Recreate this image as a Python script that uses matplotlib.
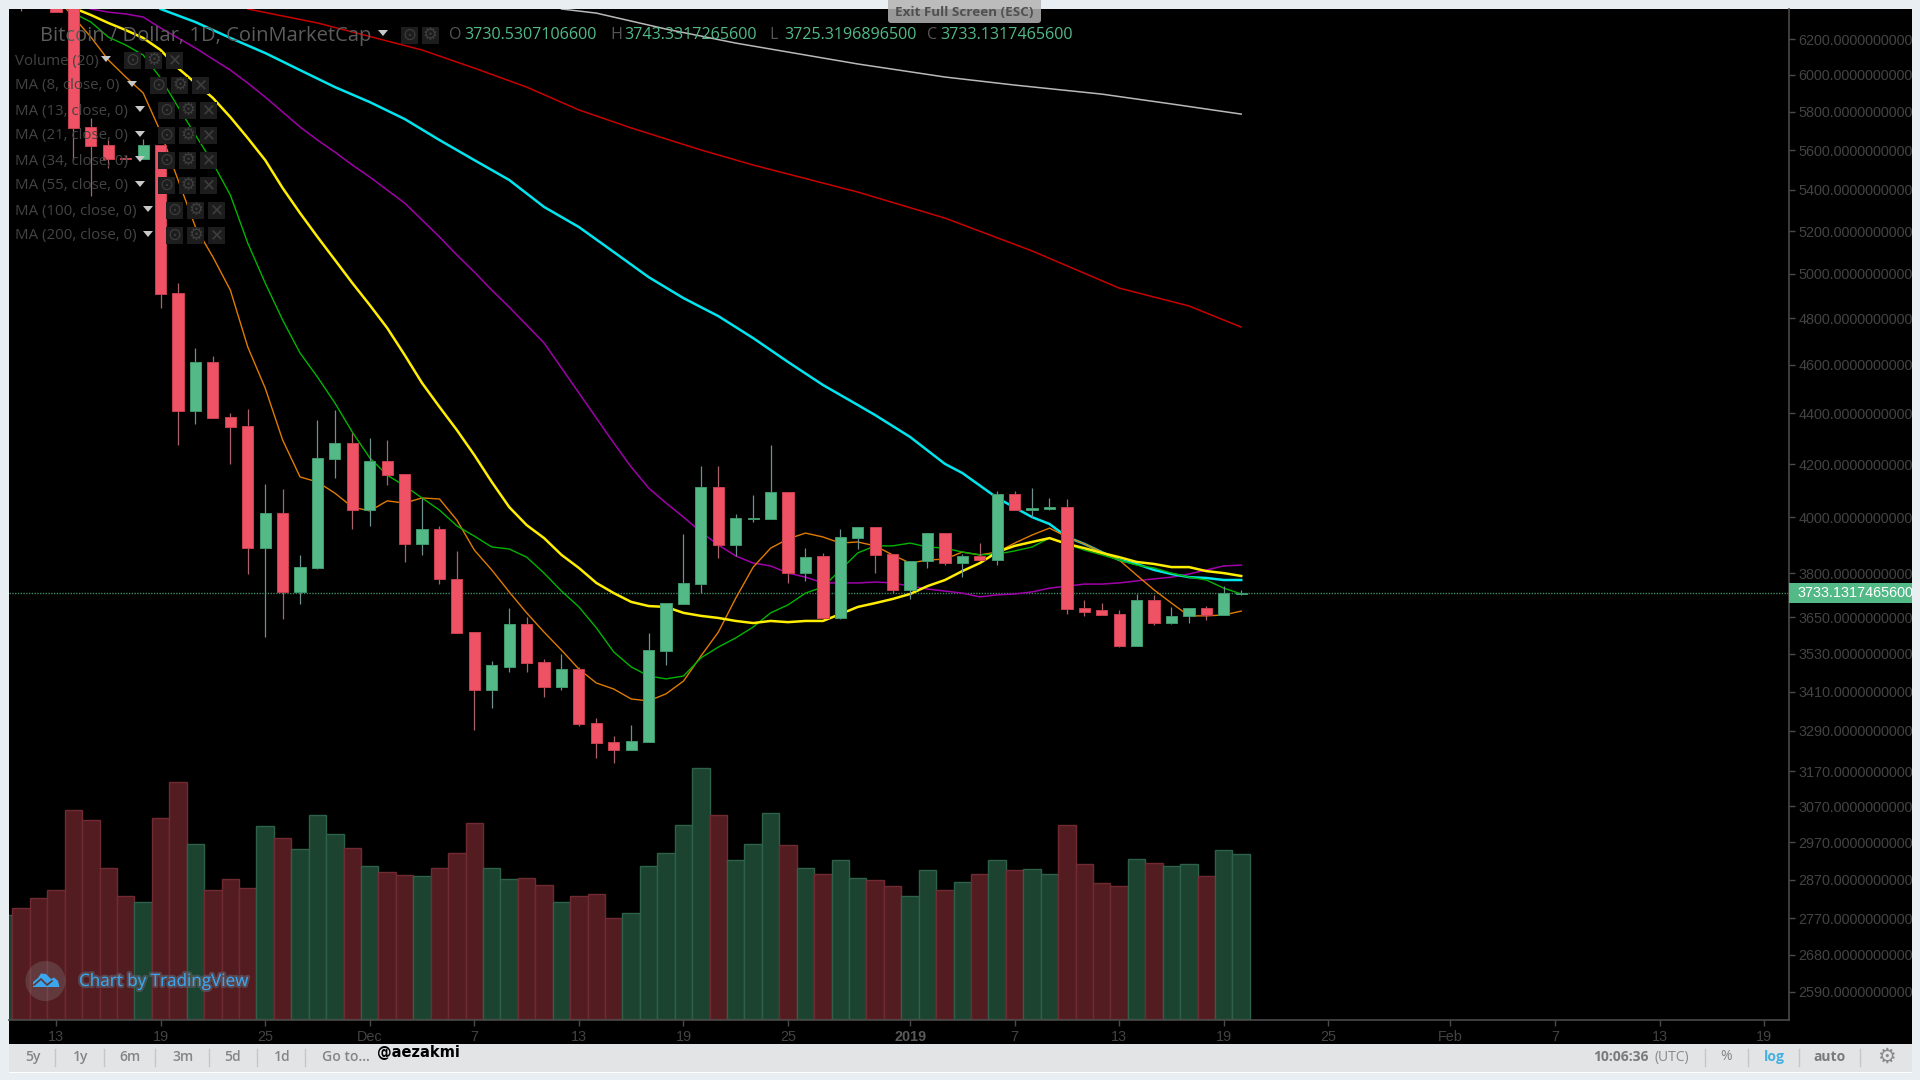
import numpy as np
import matplotlib
matplotlib.use("Agg")
import matplotlib.pyplot as plt
from matplotlib.patches import Rectangle, Circle, Polygon, FancyBboxPatch
import matplotlib.patheffects as pe

# daily candles, day index counted from 13 Nov 2018
days = list(range(-2, 69))
opens = [6440,6520,6420,6400,5721,5625,5562,5556,5625,4914,4408,4613,4386,4351,3890,4016,3736,3819,4220,4283,4027,4211,4161,3903,3956,3782,3602,3415,3489,3627,3505,3424,3481,3313,3255,3232,3257,3540,3696,3764,4114,3900,3994,3995,4095,3801,3860,3649,3926,3965,3867,3742,3844,3945,3837,3860,3848,4087,4027,4031,4039,3681,3673,3661,3554,3710,3631,3654,3681,3657,3730.53]
highs = [6460,6540,6440,6450,5769,5652,5575,5655,5625,4958,4673,4637,4402,4417,4124,4105,3864,4372,4413,4322,4303,4294,4161,4070,3970,3878,3602,3507,3682,3651,3512,3529,3489,3330,3273,3306,3599,3699,3939,4192,4192,4012,4083,4274,4095,3890,3873,3957,3965,3965,3867,3844,3945,3945,3868,3908,4098,4098,4111,4073,4067,3710,3699,3676,3728,3724,3685,3681,3688,3758,3743.33]
lows = [6362,6440,6355,5550,5371,5508,5540,5556,4848,4274,4359,4383,4200,3798,3586,3643,3694,3815,4146,3957,3970,4120,3840,3863,3762,3599,3291,3360,3473,3473,3394,3414,3303,3209,3194,3232,3257,3494,3696,3734,3855,3861,3983,3995,3766,3775,3649,3643,3885,3800,3731,3712,3819,3829,3788,3846,3829,4027,4002,4026,3661,3656,3657,3551,3554,3624,3627,3631,3640,3657,3725.32]
closes = [6400,6440,6355,5716,5621,5556,5556,5625,4908,4408,4613,4383,4346,3890,4016,3736,3823,4224,4283,4027,4211,4157,3903,3956,3779,3599,3415,3493,3627,3502,3424,3481,3311,3252,3232,3258,3542,3699,3765,4114,3900,3997,3997,4095,3801,3858,3649,3929,3965,3864,3742,3844,3945,3837,3860,3846,4087,4027,4034,4039,3678,3669,3657,3554,3710,3631,3656,3681,3657,3733,3733.13]

vol_days = list(range(-3, 69))
volumes = [312,333,363,387,626,596,453,368,352,603,712,525,387,420,393,578,543,510,611,555,513,458,442,431,428,453,498,588,453,420,423,401,352,368,375,303,318,458,498,581,753,611,476,525,618,521,453,435,476,423,416,398,368,447,387,412,435,476,447,450,435,581,465,408,398,480,468,458,465,428,506,495]

ma_days = list(range(0, 69))
ma8 = [6443,6326,6211,6082,5988,5901,5694,5449,5219,5078,4926,4676,4503,4294,4151,4132,4090,4038,4024,4061,4053,4072,4068,3990,3882,3812,3736,3665,3601,3542,3481,3437,3418,3387,3381,3403,3443,3523,3601,3715,3822,3889,3922,3943,3929,3907,3911,3897,3865,3836,3847,3850,3875,3865,3875,3907,3936,3961,3929,3904,3875,3847,3794,3743,3698,3655,3655,3658,3671]
ma13 = [6443,6349,6297,6211,6166,6110,5982,5826,5678,5534,5374,5143,4958,4793,4650,4549,4442,4325,4224,4158,4117,4072,4027,3969,3932,3893,3886,3857,3801,3739,3685,3615,3536,3488,3459,3450,3459,3517,3552,3582,3618,3665,3692,3732,3753,3812,3872,3897,3897,3907,3893,3889,3875,3865,3868,3879,3893,3925,3904,3882,3865,3847,3829,3819,3801,3787,3777,3749,3729]
ma21 = [6461,6379,6338,6292,6251,6206,6138,6037,5955,5874,5772,5662,5549,5409,5286,5172,5064,4958,4859,4758,4642,4524,4426,4333,4235,4132,4038,3972,3925,3865,3819,3767,3732,3702,3688,3685,3665,3655,3648,3638,3631,3638,3634,3638,3638,3661,3685,3698,3712,3729,3756,3777,3808,3836,3875,3897,3911,3925,3904,3889,3872,3857,3840,3833,3822,3822,3808,3801,3791]
ma34 = [6473,6414,6373,6355,6344,6326,6263,6206,6149,6087,6026,5955,5879,5799,5720,5652,5590,5524,5464,5399,5335,5253,5172,5087,5008,4926,4850,4771,4693,4587,4483,4381,4282,4189,4109,4053,4001,3947,3900,3861,3836,3826,3801,3787,3767,3767,3767,3770,3767,3756,3746,3739,3732,3719,3726,3729,3736,3749,3756,3763,3763,3767,3774,3781,3787,3798,3812,3826,3829]
ma55_days = [6,8,10,12,14,16,18,20,22,24,26,28,30,32,34,36,38,40,42,44,46,47,49,51,52,54,56,57,58,59,60,61,62,63,64,65,66,67,68]
ma55 = [6373,6297,6206,6121,6026,5933,5852,5762,5652,5549,5449,5316,5219,5101,4985,4890,4810,4714,4612,4516,4434,4393,4306,4201,4166,4072,4001,3976,3929,3904,3875,3847,3833,3812,3798,3787,3784,3777,3777]
ma100_days = [11,15,21,24,27,30,33,37,40,46,51,56,61,65,68]
ma100 = [6373,6292,6138,6037,5933,5810,5715,5601,5524,5389,5262,5106,4935,4855,4762]
ma200_days = [29,31,35,39,46,51,55,60,64,68]
ma200 = [6373,6349,6257,6177,6060,5988,5944,5895,5842,5788]

last_price = 3733.13
price_ticks = [6200,6000,5800,5600,5400,5200,5000,4800,4600,4400,4200,4000,3800,3650,3530,3410,3290,3170,3070,2970,2870,2770,2680,2590]
date_ticks = [0,6,12,18,24,30,36,42,49,55,61,67,73,80,86,92,98]
date_labels = ["13","19","25","Dec","7","13","19","25","2019","7","13","19","25","Feb","7","13","19"]
legend_rows = ["Volume (20)","MA (8, close, 0)","MA (13, close, 0)","MA (21, close, 0)","MA (34, close, 0)","MA (55, close, 0)","MA (100, close, 0)","MA (200, close, 0)"]

W, H = 1920, 1080
UP, DOWN = "#53b987", "#ef5264"
GREY = "#4a4a4a"
fig = plt.figure(figsize=(W/100, H/100), dpi=100, facecolor="#e9eef2")

def rect_px(l, t, r, b):
    return [l/W, 1-b/H, (r-l)/W, (b-t)/H]

ax_bg = fig.add_axes([0, 0, 1, 1], zorder=0)
ax_bg.set_xlim(0, W); ax_bg.set_ylim(H, 0); ax_bg.axis("off")
ax_bg.add_patch(Rectangle((9, 9), 1903, 1035, fc="black", ec="none"))

xlim = (-2.7, 99.43)
ax_vol = fig.add_axes(rect_px(9, 9, 1789, 1020), zorder=1)
ax_vol.set_xlim(*xlim); ax_vol.axis("off")
up_flags = [True] + [c >= o for o, c in zip(opens, closes)]
ax_vol.bar(vol_days, volumes, width=1.0,
           color=["#1c4230" if u else "#531c21" for u in up_flags],
           edgecolor=["#2d6149" if u else "#702a31" for u in up_flags], linewidth=1)
ax_vol.set_ylim(-3, 3030)

ax = fig.add_axes(rect_px(9, 9, 1789, 1020), zorder=2)
ax.patch.set_alpha(0)
ax.set_yscale("log")
ax.set_xlim(*xlim); ax.set_ylim(2524, 6373)
for s in ("top", "left"):
    ax.spines[s].set_visible(False)
for s in ("bottom", "right"):
    ax.spines[s].set_color(GREY); ax.spines[s].set_linewidth(1.2)
ax.minorticks_off()
ax.yaxis.tick_right()
ax.set_yticks(price_ticks, [f"{p}.0000000000" for p in price_ticks])
ax.yaxis.set_minor_locator(matplotlib.ticker.NullLocator())
ax.set_xticks(date_ticks, date_labels)
ax.tick_params(axis="y", length=4, width=1, color=GREY, labelcolor="#434343", labelsize=10.4, pad=3)
ax.tick_params(axis="x", length=4, width=1, color=GREY, labelcolor="#434343", labelsize=10.4, pad=3)
for t in ax.get_yticklabels() + ax.get_xticklabels():
    t.set_family("Liberation Sans")
ax.get_xticklabels()[8].set_fontweight("bold")
ax.get_xticklabels()[8].set_color("#5a5a5a")

ax.axhline(last_price, color="#53b987", lw=1, ls=(0, (1, 1)), alpha=0.75, zorder=1)
ax.plot(ma200_days, ma200, color="#b9b9b9", lw=1.1, zorder=2)
ax.plot(ma100_days, ma100, color="#c80000", lw=1.1, zorder=2)
ax.plot(ma_days, ma34, color="#a000aa", lw=1.1, zorder=2)
ax.plot(ma55_days, ma55, color="#00e5ee", lw=1.8, zorder=2)
ax.plot(ma_days, ma8, color="#e07b00", lw=1.0, zorder=2)
ax.plot(ma_days, ma13, color="#00b400", lw=1.0, zorder=2)
ax.plot(ma_days, ma21, color="#ffee00", lw=1.8, zorder=2)

for d, o, h, l, c in zip(days, opens, highs, lows, closes):
    up = c >= o
    ax.vlines(d, l, h, color="#6e8f8d" if up else "#a8636b", lw=0.9, zorder=3)
    lo, hi = min(o, c), max(o, c)
    ax.bar(d, max(hi-lo, 3), bottom=lo, width=0.64, color=UP if up else DOWN,
           edgecolor="#3f9a6e" if up else "#c9404f", linewidth=0.7, zorder=4)

ui = fig.add_axes([0, 0, 1, 1], zorder=5)
ui.set_xlim(0, W); ui.set_ylim(H, 0); ui.axis("off")
ui.patch.set_alpha(0)

# current price tag
ui.add_patch(Rectangle((1789, 582.5), 123, 20, fc=UP, ec="none"))
ui.text(1797, 593, "3733.1317465600", color="white", fontsize=10.4, family="Liberation Sans", va="center")

# frame strip hiding the clipped price labels, then bottom bar
ui.add_patch(Rectangle((1912, 0), 8, H, fc="#e9eef2", ec="none", zorder=3))
ui.add_patch(Rectangle((9, 1044), 1903, 28, fc="#e3e4e6", ec="none"))
ui.add_patch(Rectangle((9, 1072), 1903, 1, fc="white", ec="none"))

# legend
ui.text(40, 36, "Bitcoin / Dollar, 1D, CoinMarketCap", color="#5c5c5c", fontsize=14.5, family="Open Sans", va="center")
def tri(x, y, s=5):
    ui.add_patch(Polygon([(x-s, y-3), (x+s, y-3), (x, y+3)], fc="#c8c8c8", ec="none"))
def icon(x, y, glyphs):
    for dx, g in zip((0, 21, 42), glyphs):
        ui.add_patch(Rectangle((x+dx-8.5, y-8.5), 17, 17, fc="#1d1d1d", ec="none"))
        ui.text(x+dx, y, g, color="#3e3e3e", fontsize=12, family="DejaVu Sans", ha="center", va="center")
tri(383, 33)
icon(409, 35, "⊙⚙")
tri_x = [106, 132, 140, 140, 140, 140, 148, 148]
icon_x = [132.5, 158.5, 166.5, 166.5, 166.5, 166.5, 174.5, 174.5]
for k, row in enumerate(legend_rows):
    y = 60 + 25*k
    ui.text(15, y+1, row, color="#444444", fontsize=10.8, family="Open Sans", va="center")
    tri(tri_x[k], y-1)
    icon(icon_x[k], y, "⊙⚙✕")

# OHLC read-out
for lx, lab, vx, val in [(449, "O", 464, "3730.5307106600"), (610, "H", 624, "3743.3317265600"),
                         (769, "L", 784, "3725.3196896500"), (927, "C", 940, "3733.1317465600")]:
    ui.text(lx, 35, lab, color="#555555", fontsize=11.6, family="Open Sans", va="center")
    ui.text(vx, 35, val, color=UP, fontsize=11.6, family="Open Sans", va="center")

# fullscreen banner
ui.add_patch(FancyBboxPatch((888, -6), 153, 29, boxstyle="round,pad=0,rounding_size=3", fc="#b4b4b4", ec="none", alpha=0.85))
ui.text(964.5, 13, "Exit Full Screen (ESC)", color="#505050", fontsize=9.7, fontweight="bold", family="Open Sans", ha="center", va="center")

# watermark
ui.add_patch(Circle((45.5, 981), 20, fc="#8a8a8a", ec="none", alpha=0.28))
ui.add_patch(Polygon([(33, 987), (33, 982), (38, 978), (41, 973.5), (46, 974), (51, 979), (54, 977.5), (58, 981), (59.5, 987)], fc="#3ba6ee", ec="none"))
ui.plot([34, 41, 47, 52], [985, 979, 985, 981], color="#5b3638", lw=1.2)
ui.text(79, 982, "Chart by TradingView", color="#3ba6ee", fontsize=12.3, family="Open Sans", va="center",
        path_effects=[pe.withStroke(linewidth=3, foreground="#5f5f6a", alpha=0.6)])

# bottom bar
for x, s in zip([32.6, 81, 129.5, 183, 232.6, 282], ["5y", "1y", "6m", "3m", "5d", "1d"]):
    ui.text(x, 1057, s, color="#858585", fontsize=10, fontweight="semibold", family="Open Sans", ha="center", va="center")
ui.text(346, 1057, "Go to...", color="#858585", fontsize=10, fontweight="semibold", family="Open Sans", ha="center", va="center")
ui.text(377, 1053, "@aezakmi", color="black", fontsize=10.5, fontweight="bold", family="DejaVu Sans", va="center")
for x in [55, 103.6, 155, 208.5, 256.7, 305, 1705, 1747.6, 1799, 1860]:
    ui.plot([x, x], [1049, 1066], color="#c6c6c8", lw=1)
ui.text(1621, 1057, "10:06:36", color="#7a7a7a", fontsize=10, fontweight="bold", family="Open Sans", ha="center", va="center")
ui.text(1672, 1057, "(UTC)", color="#8a8a8a", fontsize=10, family="Open Sans", ha="center", va="center")
ui.text(1726, 1057, "%", color="#858585", fontsize=10, family="Open Sans", ha="center", va="center")
ui.text(1774.5, 1057, "log", color="#45b0e0", fontsize=10, fontweight="bold", family="Open Sans", ha="center", va="center")
ui.text(1830, 1057, "auto", color="#7a7a7a", fontsize=10, fontweight="bold", family="Open Sans", ha="center", va="center")
ui.text(1886, 1057, "⚙", color="#8a8a8a", fontsize=15, family="DejaVu Sans", ha="center", va="center")

fig.savefig("out.png", dpi=100, facecolor=fig.get_facecolor())
